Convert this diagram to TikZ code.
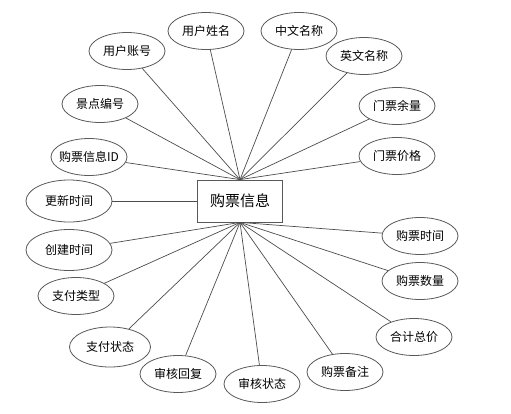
\documentclass[tikz,border=0pt]{standalone}
\usepackage{fontspec}
\newfontfamily\cjk{Noto Sans CJK SC}
\usetikzlibrary{shapes.geometric}

\begin{document}
\begin{tikzpicture}[
    x=1pt, y=-1pt,
    attr/.style={ellipse, draw=black!65, line width=0.8pt, minimum width=76pt, minimum height=37pt, inner sep=0pt, font=\cjk\fontsize{12}{14}\selectfont},
    entity/.style={rectangle, draw=black!65, line width=0.8pt, minimum width=85pt, minimum height=42pt, font=\cjk\fontsize{15}{18}\selectfont},
    link/.style={draw=black!70, line width=0.7pt}
]
    \useasboundingbox (0,0) rectangle (511,413);

    % Entity
    \node[entity] (info) at (240,201) {购票信息};

    % Attributes above
    \node[attr] (uname) at (206,31) {用户姓名};
    \node[attr] (acct) at (127,51) {用户账号};
    \node[attr] (cname) at (299,31) {中文名称};
    \node[attr] (ename) at (364,56) {英文名称};
    \node[attr] (remain) at (397,106) {门票余量};
    \node[attr] (price) at (397,156) {门票价格};
    \node[attr] (spot) at (100,104) {景点编号};
    \node[attr, inner xsep=-6pt] (infoid) at (89,157) {购票信息ID};

    % Attribute left
    \node[attr, minimum width=86pt, minimum height=42pt] (upd) at (69,201) {更新时间};

    % Attributes below
    \node[attr, minimum width=86pt, minimum height=41pt] (created) at (69,250) {创建时间};
    \node[attr] (paytype) at (76,296) {支付类型};
    \node[attr, minimum width=81pt, minimum height=40pt] (paystat) at (110,347) {支付状态};
    \node[attr] (reply) at (178,374) {审核回复};
    \node[attr] (audit) at (262,384) {审核状态};
    \node[attr] (remark) at (345,372) {购票备注};
    \node[attr] (total) at (414,337) {合计总价};
    \node[attr] (qty) at (420,281) {购票数量};
    \node[attr] (buytime) at (420,236) {购票时间};

    % Links
    \draw[link] (info.north) -- (infoid);
    \draw[link] (info.north) -- (spot);
    \draw[link] (info.north) -- (acct);
    \draw[link] (info.north) -- (uname);
    \draw[link] (info.north) -- (cname);
    \draw[link] (info.north) -- (ename);
    \draw[link] (info.north) -- (remain);
    \draw[link] (info.north) -- (price);
    \draw[link] (info.west) -- (upd);
    \draw[link] (info.south) -- (created);
    \draw[link] (info.south) -- (paytype);
    \draw[link] (info.south) -- (paystat);
    \draw[link] (info.south) -- (reply);
    \draw[link] (info.south) -- (audit);
    \draw[link] (info.south) -- (remark);
    \draw[link] (info.south) -- (total);
    \draw[link] (info.south) -- (qty);
    \draw[link] (info.south) -- (buytime);
\end{tikzpicture}
\end{document}
